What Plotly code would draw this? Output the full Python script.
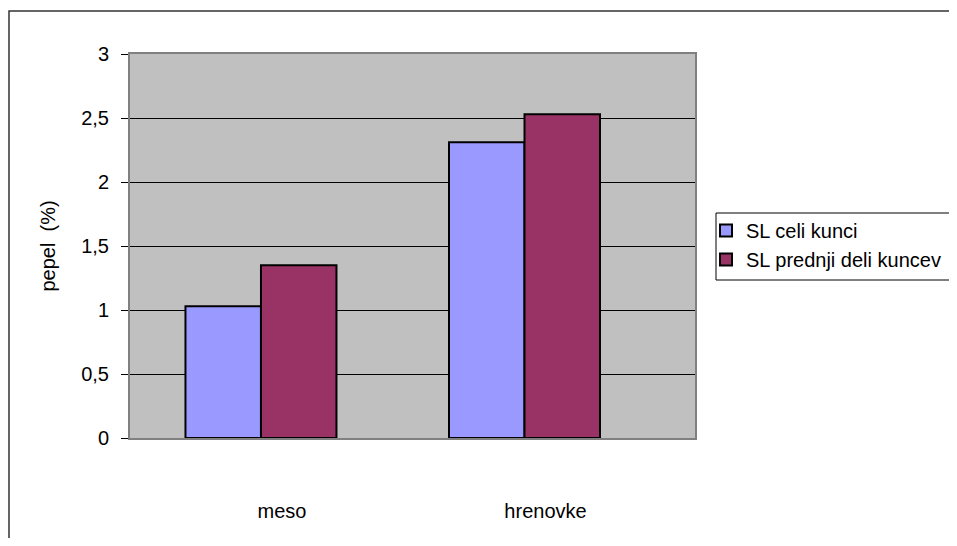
import plotly.graph_objects as go

categories = ["meso", "hrenovke"]
series_names = ["SL celi kunci", "SL prednji deli kuncev"]
celi_kunci = [1.03, 2.31]
prednji_deli = [1.35, 2.53]
y_tick_vals = [0, 0.5, 1, 1.5, 2, 2.5, 3]
y_tick_text = ["0", "0,5", "1", "1,5", "2", "2,5", "3"]
colors = ["#9999FF", "#993366"]

OFF = 8  # page body margin
W, H = 957 - OFF, 546 - 2 * OFF
L, R, T, B = 130 - OFF, 695 - OFF, 54 - OFF, 438 - OFF

fig = go.Figure()
for name, vals, col in zip(series_names, [celi_kunci, prednji_deli], colors):
    fig.add_trace(go.Bar(
        x=categories, y=vals, name=name,
        marker=dict(color=col, line=dict(color="black", width=2)),
    ))

font = "Liberation Sans, Arial, sans-serif"

def px_x(p):
    return (p - OFF - L) / (R - L)

def px_y(p):
    return (B - (p - OFF)) / (B - T)

fig.update_layout(
    width=W, height=H,
    margin=dict(l=L, r=W - R, t=T, b=H - B, autoexpand=False),
    paper_bgcolor="white",
    plot_bgcolor="#C0C0C0",
    barmode="group",
    bargap=0.427,
    bargroupgap=0,
    font=dict(family=font, size=20, color="black"),
    showlegend=True,
    legend=dict(
        x=px_x(706), y=px_y(211), xanchor="left", yanchor="top",
        bgcolor="rgba(0,0,0,0)", borderwidth=0,
        font=dict(size=20, family=font),
        itemwidth=30,
    ),
    xaxis=dict(
        range=[-0.497, 1.647],
        showgrid=False,
        showline=True, linecolor="#808080", linewidth=2, mirror=True,
        ticks="", ticklabelshift=21, ticklabelstandoff=54,
        tickfont=dict(size=20),
        zeroline=False,
    ),
    yaxis=dict(
        range=[0, 3],
        tickvals=y_tick_vals, ticktext=y_tick_text,
        showgrid=True, gridcolor="black", gridwidth=1,
        showline=True, linecolor="#808080", linewidth=2, mirror=True,
        ticks="outside", ticklen=7, tickcolor="black", tickwidth=1,
        ticklabelstandoff=8,
        tickfont=dict(size=20),
        zeroline=False,
        title=dict(text="pepel  (%)", font=dict(size=20), standoff=20),
    ),
    shapes=[
        dict(
            type="rect", xref="paper", yref="paper",
            x0=px_x(9), x1=px_x(965), y0=px_y(555), y1=px_y(11),
            line=dict(color="#333333", width=1.5), fillcolor="rgba(0,0,0,0)",
            layer="below",
        ),
        dict(
            type="rect", xref="paper", yref="paper",
            x0=px_x(716), x1=px_x(970), y0=px_y(280), y1=px_y(213),
            line=dict(color="black", width=1), fillcolor="white",
            layer="below",
        ),
    ],
)

fig.write_html("out.html")
